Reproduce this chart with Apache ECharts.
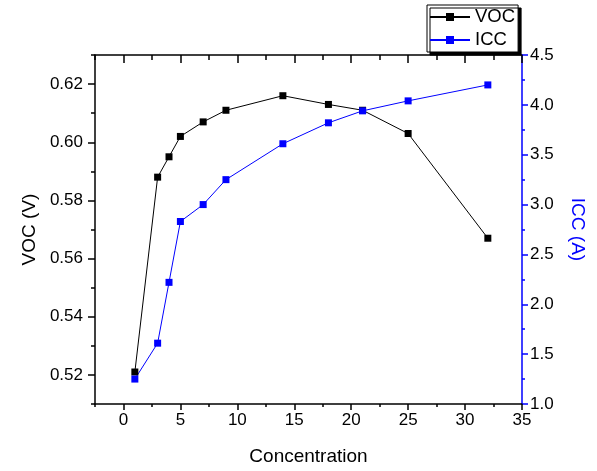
<!DOCTYPE html>
<html>
<head>
<meta charset="utf-8">
<script src="https://cdn.jsdelivr.net/npm/echarts@6/dist/echarts.min.js"></script>
<style>
  html, body { margin: 0; padding: 0; background: #fff; }
  #chart { width: 597px; height: 471px; }
</style>
</head>
<body>
<div id="chart"></div>
<script>
var concentration = [1, 3, 4, 5, 7, 9, 14, 18, 21, 25, 32];
var voc = [0.521, 0.588, 0.595, 0.602, 0.607, 0.611, 0.616, 0.613, 0.611, 0.603, 0.567];
var icc = [1.25, 1.61, 2.22, 2.83, 3.00, 3.25, 3.61, 3.82, 3.94, 4.04, 4.20];

// tick positions
var xTicks = [0, 5, 10, 15, 20, 25, 30, 35];
var xMinor = [-2.5, 2.5, 7.5, 12.5, 17.5, 22.5, 27.5, 32.5];
var vocTicks = [0.52, 0.54, 0.56, 0.58, 0.60, 0.62];
var vocMinor = [0.51, 0.53, 0.55, 0.57, 0.59, 0.61, 0.63];
var iccTicks = [1.0, 1.5, 2.0, 2.5, 3.0, 3.5, 4.0, 4.5];
var iccMinor = [1.25, 1.75, 2.25, 2.75, 3.25, 3.75, 4.25];

var chart = echarts.init(document.getElementById('chart'));
var font = 'Liberation Sans, Arial, sans-serif';
var blue = '#0000ff';

function lbl(v, d) { return v.toFixed(d); }

var option = {
    animation: false,
    textStyle: { fontFamily: font },
    grid: { left: 95, right: 75, top: 55, bottom: 65 },
    legend: {
        orient: 'vertical',
        left: 427, top: 5,
        padding: [2, 3, 2, 2],
        itemWidth: 40, itemHeight: 10, itemGap: 3,
        backgroundColor: '#fff',
        borderColor: '#000', borderWidth: 1,
        borderRadius: 0,
        shadowColor: '#000', shadowBlur: 0, shadowOffsetX: 3, shadowOffsetY: 3,
        textStyle: { fontSize: 18.5, lineHeight: 20, color: '#000', fontFamily: font },
        data: ['VOC', 'ICC']
    },
    xAxis: [
        {   // bottom, major
            type: 'value', min: -2.5, max: 35, position: 'bottom',
            name: 'Concentration', nameLocation: 'middle', nameGap: 43,
            nameTextStyle: { fontSize: 19, color: '#000' },
            axisLine: { onZero: false, lineStyle: { color: '#000', width: 1.5 } },
            axisTick: { length: 6, lineStyle: { color: '#000', width: 1.5 }, customValues: xTicks },
            axisLabel: { fontSize: 17, color: '#000', margin: 8, customValues: xTicks },
            splitLine: { show: false }
        },
        {   // bottom, minor
            type: 'value', min: -2.5, max: 35, position: 'bottom',
            axisLine: { show: false, onZero: false },
            axisTick: { length: 3, lineStyle: { color: '#000', width: 1.5 }, customValues: xMinor },
            axisLabel: { show: false },
            splitLine: { show: false }
        },
        {   // top, major
            type: 'value', min: -2.5, max: 35, position: 'top',
            axisLine: { onZero: false, lineStyle: { color: '#000', width: 1.5 } },
            axisTick: { inside: true, length: 8, lineStyle: { color: '#000', width: 1.5 }, customValues: xTicks },
            axisLabel: { show: false },
            splitLine: { show: false }
        },
        {   // top, minor
            type: 'value', min: -2.5, max: 35, position: 'top',
            axisLine: { show: false, onZero: false },
            axisTick: { inside: true, length: 5, lineStyle: { color: '#000', width: 1.5 }, customValues: xMinor },
            axisLabel: { show: false },
            splitLine: { show: false }
        }
    ],
    yAxis: [
        {   // left VOC
            type: 'value', min: 0.51, max: 0.63, position: 'left',
            name: 'VOC (V)', nameLocation: 'middle', nameGap: 56,
            nameTextStyle: { fontSize: 19, color: '#000' },
            axisLine: { show: true, onZero: false, lineStyle: { color: '#000', width: 1.5 } },
            axisTick: { show: true, length: 7, lineStyle: { color: '#000', width: 1.5 }, customValues: vocTicks },
            axisLabel: { fontSize: 17, color: '#000', margin: 12, customValues: vocTicks,
                formatter: function (v) { return lbl(v, 2); } },
            splitLine: { show: false }
        },
        {   // right ICC
            type: 'value', min: 1.0, max: 4.5, position: 'right',
            name: 'ICC (A)', nameLocation: 'middle', nameGap: 46, nameRotate: -90,
            nameTextStyle: { fontSize: 19, color: blue },
            axisLine: { show: true, onZero: false, lineStyle: { color: blue, width: 1.5 } },
            axisTick: { show: true, length: 6, lineStyle: { color: blue, width: 1.5 }, customValues: iccTicks },
            axisLabel: { fontSize: 17, color: '#000', margin: 8, customValues: iccTicks,
                formatter: function (v) { return lbl(v, 1); } },
            splitLine: { show: false }
        },
        {   // left minor
            type: 'value', min: 0.51, max: 0.63, position: 'left',
            axisLine: { show: false, onZero: false },
            axisTick: { show: true, length: 4, lineStyle: { color: '#000', width: 1.5 }, customValues: vocMinor },
            axisLabel: { show: false },
            splitLine: { show: false }
        },
        {   // right minor
            type: 'value', min: 1.0, max: 4.5, position: 'right',
            axisLine: { show: false, onZero: false },
            axisTick: { show: true, length: 3, lineStyle: { color: blue, width: 1.5 }, customValues: iccMinor },
            axisLabel: { show: false },
            splitLine: { show: false }
        }
    ],
    series: [
        {
            name: 'VOC', type: 'line', xAxisIndex: 0, yAxisIndex: 0,
            data: concentration.map(function (c, i) { return [c, voc[i]]; }),
            symbol: 'rect', symbolSize: 7,
            itemStyle: { color: '#000' },
            lineStyle: { color: '#000', width: 1 }
        },
        {
            name: 'ICC', type: 'line', xAxisIndex: 0, yAxisIndex: 1,
            data: concentration.map(function (c, i) { return [c, icc[i]]; }),
            symbol: 'rect', symbolSize: 7,
            itemStyle: { color: blue },
            lineStyle: { color: blue, width: 1 }
        }
    ]
};

chart.setOption(option);
</script>
</body>
</html>
